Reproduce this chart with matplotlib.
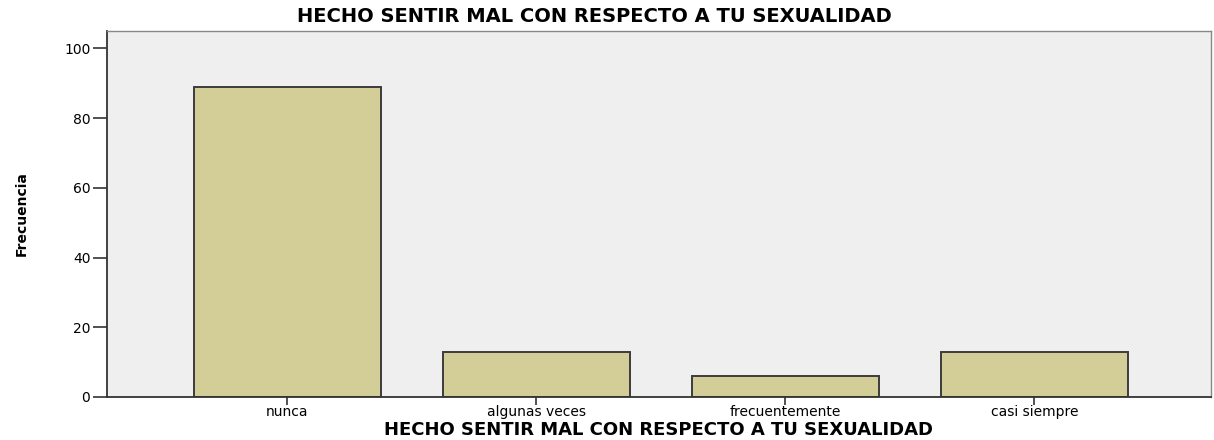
import numpy as np
import matplotlib.pyplot as plt

categorias = ['nunca', 'algunas veces', 'frecuentemente', 'casi siempre']
frecuencias = [89, 13, 6, 13]
yticks = [0, 20, 40, 60, 80, 100]
titulo = 'HECHO SENTIR MAL CON RESPECTO A TU SEXUALIDAD'

fig = plt.figure(figsize=(12.14, 4.4), dpi=100)
ax = fig.add_axes([107 / 1214, 1 - 397 / 440, (1211 - 107) / 1214, (397 - 31) / 440])
ax.set_facecolor('#efefef')

x = np.arange(len(categorias))
ax.bar(x, frecuencias, width=0.75, color='#d3ce98', edgecolor='#3c3c3c', linewidth=1.4)

ax.set_xlim(-0.725, 3.71)
ax.set_ylim(0, 105)
ax.set_xticks(x)
ax.set_xticklabels(categorias, fontsize=10)
ax.set_yticks(yticks)
ax.set_yticklabels([str(v) for v in yticks], fontsize=10)
ax.tick_params(axis='y', length=10, width=1.2, pad=2, color='#333333')
ax.tick_params(axis='x', length=6, width=1.2, pad=0, color='#333333')

for side in ['left', 'bottom']:
    ax.spines[side].set_color('#333333')
    ax.spines[side].set_linewidth(1.3)
for side in ['top', 'right']:
    ax.spines[side].set_color('#888888')
    ax.spines[side].set_linewidth(1.0)

fig.text(0.49, 1 - 16 / 440, titulo, ha='center', va='center', fontsize=14, fontweight='bold')
ax.set_xlabel(titulo, fontsize=13, fontweight='bold')
ax.xaxis.set_label_coords(0.5, -(430 - 397) / 366)
ax.xaxis.label.set_va('center')
fig.text(22 / 1214, 1 - 214 / 440, 'Frecuencia', rotation=90, ha='center', va='center',
         fontsize=10, fontweight='bold')

fig.savefig('out.png', dpi=100)
